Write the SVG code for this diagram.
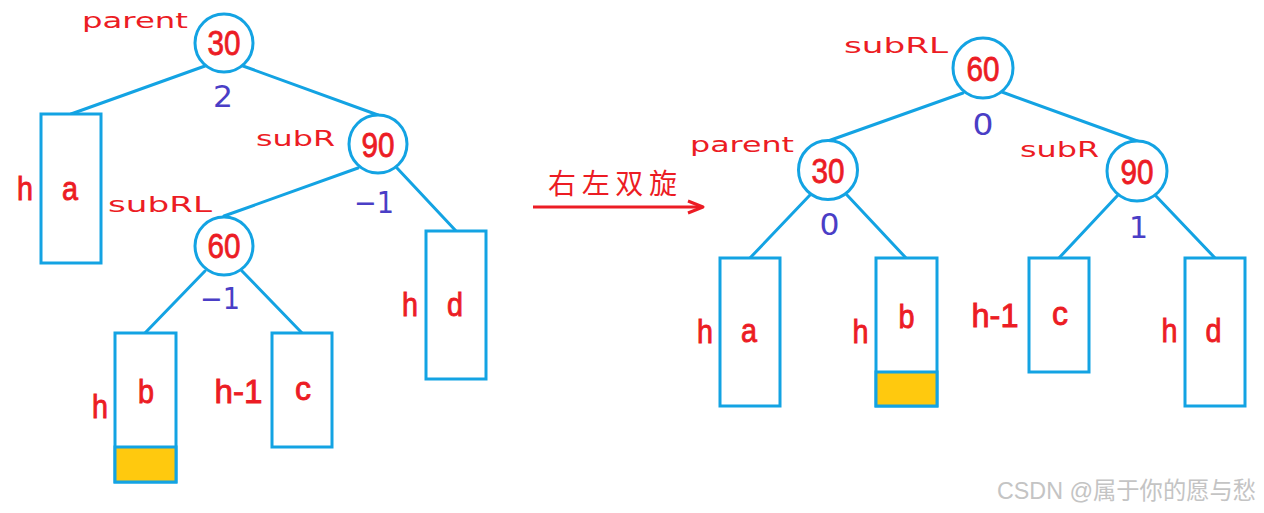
<svg xmlns="http://www.w3.org/2000/svg" width="1264" height="513" viewBox="0 0 1264 513">
<style>
.ln{stroke:#13a3e3;stroke-width:3;fill:none;stroke-linecap:round}
.nd{stroke:#13a3e3;stroke-width:3;fill:#fff}
.bx{stroke:#13a3e3;stroke-width:3;fill:#fff}
.yl{fill:#ffc90e;stroke:#13a3e3;stroke-width:3}
.num{font-family:"Liberation Sans",Arial,sans-serif;font-size:35px;fill:#ec1c24;stroke:#ec1c24;stroke-width:0.8;text-anchor:middle}
.lt{font-family:"Liberation Sans",Arial,sans-serif;font-size:33px;fill:#ec1c24;stroke:#ec1c24;stroke-width:0.9;text-anchor:middle}
.nm{font-family:"DejaVu Sans",Verdana,sans-serif;font-size:21px;fill:#ec1c24;text-anchor:middle}
.bf{font-family:"DejaVu Sans",Verdana,sans-serif;font-size:30px;fill:#4a3ec6;text-anchor:middle}
.cn{font-family:"Noto Sans CJK SC",sans-serif;font-size:28px;fill:#ec1c24;text-anchor:middle}
.wm{font-family:"Liberation Sans","Noto Sans CJK SC",sans-serif;font-size:24px;fill:#c4c4c4}
</style>
<rect width="1264" height="513" fill="#fff"/>
<g id="connectors">
<line class="ln" x1="205" y1="66" x2="71" y2="114"/>
<line class="ln" x1="243" y1="66" x2="378" y2="115"/>
<line class="ln" x1="358" y1="168" x2="224" y2="216"/>
<line class="ln" x1="397" y1="168" x2="456" y2="231"/>
<line class="ln" x1="205" y1="271" x2="145" y2="333"/>
<line class="ln" x1="242" y1="271" x2="302" y2="333"/>
<line class="ln" x1="963" y1="93" x2="828" y2="141"/>
<line class="ln" x1="1002" y1="92" x2="1140" y2="142"/>
<line class="ln" x1="810" y1="195" x2="750" y2="258"/>
<line class="ln" x1="847" y1="195" x2="906" y2="258"/>
<line class="ln" x1="1118" y1="195" x2="1059" y2="258"/>
<line class="ln" x1="1155" y1="195" x2="1215" y2="258"/>
</g>
<g id="left-30">
<circle class="nd" cx="224" cy="43" r="29"/>
<text class="num" x="224" y="55" textLength="33" lengthAdjust="spacingAndGlyphs">30</text>
<text class="nm" x="135" y="28" textLength="106" lengthAdjust="spacingAndGlyphs">parent</text>
<text class="bf" x="223" y="107" textLength="20" lengthAdjust="spacingAndGlyphs">2</text>
</g>
<g id="left-90">
<circle class="nd" cx="378" cy="144" r="29"/>
<text class="num" x="378" y="157" textLength="33" lengthAdjust="spacingAndGlyphs">90</text>
<text class="nm" x="295.5" y="146" textLength="79" lengthAdjust="spacingAndGlyphs">subR</text>
<text class="bf" x="374" y="213" textLength="40" lengthAdjust="spacingAndGlyphs">−1</text>
</g>
<g id="left-60">
<circle class="nd" cx="224" cy="246" r="29"/>
<text class="num" x="224" y="258" textLength="33" lengthAdjust="spacingAndGlyphs">60</text>
<text class="nm" x="160" y="212" textLength="104" lengthAdjust="spacingAndGlyphs">subRL</text>
<text class="bf" x="220" y="309" textLength="40" lengthAdjust="spacingAndGlyphs">−1</text>
</g>
<g id="left-a">
<rect class="bx" x="41" y="114" width="60" height="149"/>
<text class="lt" x="25" y="200" textLength="16" lengthAdjust="spacingAndGlyphs">h</text>
<text class="lt" x="70" y="200" textLength="16" lengthAdjust="spacingAndGlyphs">a</text>
</g>
<g id="left-b">
<rect class="bx" x="115" y="333" width="61" height="149"/>
<rect class="yl" x="115" y="447" width="61" height="35"/>
<text class="lt" x="100" y="418" textLength="16" lengthAdjust="spacingAndGlyphs">h</text>
<text class="lt" x="146" y="403" textLength="16" lengthAdjust="spacingAndGlyphs">b</text>
</g>
<g id="left-c">
<rect class="bx" x="272" y="333" width="60" height="114"/>
<text class="lt" x="238.5" y="403" textLength="48" lengthAdjust="spacingAndGlyphs">h-1</text>
<text class="lt" x="303" y="400" textLength="16" lengthAdjust="spacingAndGlyphs">c</text>
</g>
<g id="left-d">
<rect class="bx" x="426" y="231" width="60" height="148"/>
<text class="lt" x="410" y="316" textLength="16" lengthAdjust="spacingAndGlyphs">h</text>
<text class="lt" x="455" y="316" textLength="16" lengthAdjust="spacingAndGlyphs">d</text>
</g>
<g id="arrow">
<line x1="533" y1="207" x2="702" y2="207" stroke="#ec1c24" stroke-width="3"/>
<polyline points="688,201 703,207 688,213" fill="none" stroke="#ec1c24" stroke-width="3" stroke-linejoin="round"/>
<text class="cn" x="612.5" y="194" textLength="129" lengthAdjust="spacing">右左双旋</text>
</g>
<g id="right-60">
<circle class="nd" cx="983" cy="68" r="30"/>
<text class="num" x="983" y="81" textLength="33" lengthAdjust="spacingAndGlyphs">60</text>
<text class="nm" x="896" y="53" textLength="104" lengthAdjust="spacingAndGlyphs">subRL</text>
<text class="bf" x="983" y="135" textLength="21" lengthAdjust="spacingAndGlyphs">0</text>
</g>
<g id="right-30">
<circle class="nd" cx="828" cy="170" r="29.5"/>
<text class="num" x="828" y="183" textLength="33" lengthAdjust="spacingAndGlyphs">30</text>
<text class="nm" x="742" y="152" textLength="104" lengthAdjust="spacingAndGlyphs">parent</text>
<text class="bf" x="829.5" y="235" textLength="20" lengthAdjust="spacingAndGlyphs">0</text>
</g>
<g id="right-90">
<circle class="nd" cx="1137" cy="171" r="30"/>
<text class="num" x="1137" y="184" textLength="33" lengthAdjust="spacingAndGlyphs">90</text>
<text class="nm" x="1059.5" y="157" textLength="79" lengthAdjust="spacingAndGlyphs">subR</text>
<text class="bf" x="1138.5" y="238">1</text>
</g>
<g id="right-a">
<rect class="bx" x="720" y="258" width="60" height="148"/>
<text class="lt" x="705" y="343" textLength="16" lengthAdjust="spacingAndGlyphs">h</text>
<text class="lt" x="749" y="342" textLength="16" lengthAdjust="spacingAndGlyphs">a</text>
</g>
<g id="right-b">
<rect class="bx" x="876" y="258" width="61" height="148"/>
<rect class="yl" x="876" y="372" width="61" height="34"/>
<text class="lt" x="860.5" y="343" textLength="16" lengthAdjust="spacingAndGlyphs">h</text>
<text class="lt" x="906.5" y="328" textLength="16" lengthAdjust="spacingAndGlyphs">b</text>
</g>
<g id="right-c">
<rect class="bx" x="1029" y="258" width="60" height="114"/>
<text class="lt" x="995" y="327" textLength="47" lengthAdjust="spacingAndGlyphs">h-1</text>
<text class="lt" x="1060" y="325" textLength="16" lengthAdjust="spacingAndGlyphs">c</text>
</g>
<g id="right-d">
<rect class="bx" x="1185" y="258" width="60" height="148"/>
<text class="lt" x="1169.5" y="342" textLength="16" lengthAdjust="spacingAndGlyphs">h</text>
<text class="lt" x="1213.5" y="342" textLength="16" lengthAdjust="spacingAndGlyphs">d</text>
</g>
<text class="wm" x="997" y="499" textLength="259" lengthAdjust="spacingAndGlyphs">CSDN @属于你的愿与愁</text>
</svg>
